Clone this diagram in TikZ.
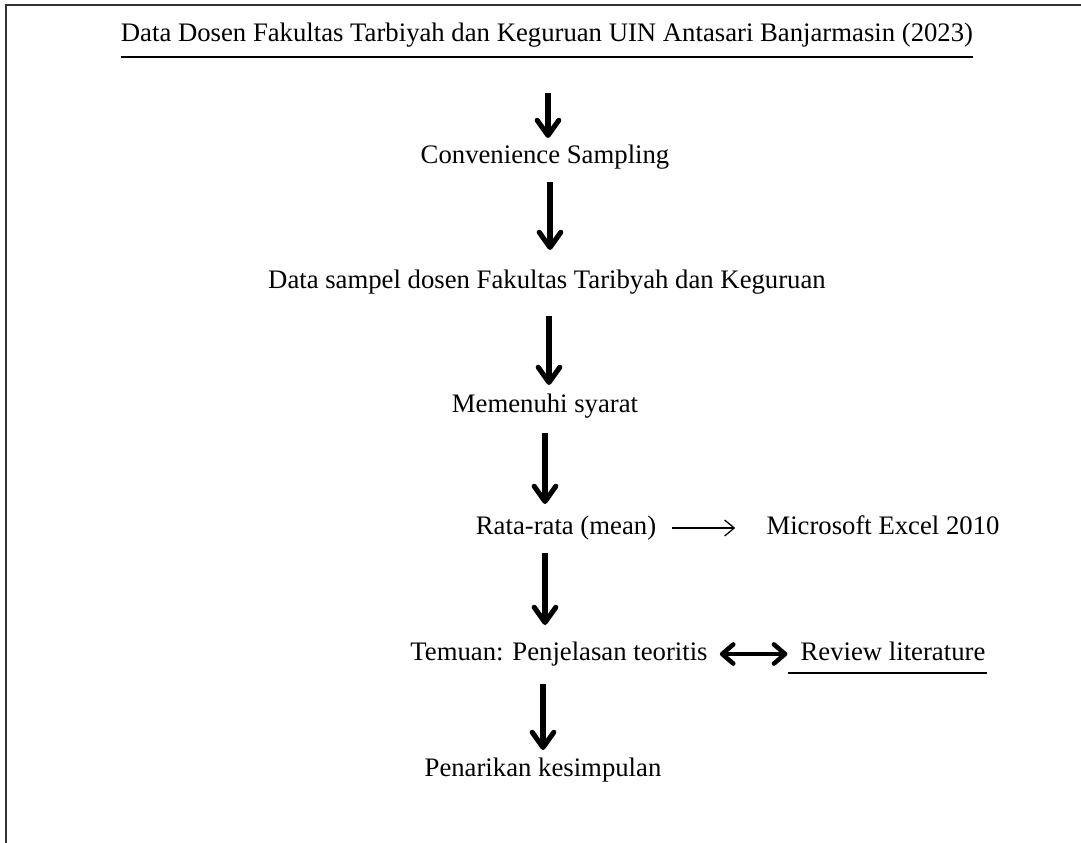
\documentclass[tikz,border=0pt]{standalone}
\usepackage{fontspec}
\setmainfont{Liberation Serif}
\usepackage{tikz}
\usetikzlibrary{calc,arrows.meta}
\tikzset{
  lab/.style={font=\fontsize{19}{23}\selectfont, inner sep=0pt, anchor=base},
  flow/.style={draw=black, line width=3.6pt, -{Straight Barb[length=3.8mm,width=5.4mm,round]}},
  twoway/.style={draw=black, line width=3.2pt, {Straight Barb[length=2.8mm,width=4.8mm,round]}-{Straight Barb[length=2.8mm,width=4.8mm,round]}},
  thin/.style={draw=black, line width=0.9pt, -{Straight Barb[length=2.4mm,width=4mm]}},
  uline/.style={draw=black, line width=1.3pt},
  frame/.style={draw=black!80, line width=1.2pt},
}

\begin{document}
\begin{tikzpicture}[x=0.025cm, y=-0.025cm]
  \useasboundingbox (0,0) rectangle (1081,843);
  \draw[frame] (6,843) -- (6,5) -- (1081,5);

  % steps
  \node[lab] (title) at (547,41) {Data Dosen Fakultas Tarbiyah dan Keguruan UIN Antasari Banjarmasin (2023)};
  \node[lab] (conv)  at (545,163) {Convenience Sampling};
  \node[lab] (sampel) at (547,288) {Data sampel dosen Fakultas Taribyah dan Keguruan};
  \node[lab] (syarat) at (545,412) {Memenuhi syarat};
  \node[lab] (rata)  at (566,534) {Rata-rata (mean)};
  \node[lab] (excel) at (883,534) {Microsoft Excel 2010};
  \node[lab] (temuan) at (559,660) {Temuan: Penjelasan teoritis};
  \node[lab] (review) at (893,660) {Review literature};
  \node[lab] (tarik) at (543,776) {Penarikan kesimpulan};

  \draw[uline] ($(title.base west)+(0,16)$) -- ($(title.base east)+(0,16)$);
  \draw[uline] ($(review.base west)+(-12,13)$) -- ($(review.base east)+(1,13)$);

  % arrows
  \draw[flow] ($(title.base)+(1,52)$) -- ($(conv.base)+(3,-25)$);
  \draw[flow] ($(conv.base)+(5,19)$) -- ($(sampel.base)+(3,-38)$);
  \draw[flow] ($(sampel.base)+(2,28)$) -- ($(syarat.base)+(4,-27)$);
  \draw[flow] ($(syarat.base)+(0,21)$) -- ($(rata.base)+(-21,-30)$);
  \draw[flow] ($(rata.base)+(-21,19)$) -- ($(temuan.base)+(-14,-35)$);
  \draw[flow] ($(temuan.base)+(-16,24)$) -- ($(tarik.base)+(0,-26)$);
  \draw[thin] ($(rata.base east)+(16,-6)$) -- ($(excel.base west)+(-31,-6)$);
  \draw[twoway] ($(temuan.base east)+(12,-6)$) -- ($(review.base west)+(-13,-6)$);
\end{tikzpicture}
\end{document}
